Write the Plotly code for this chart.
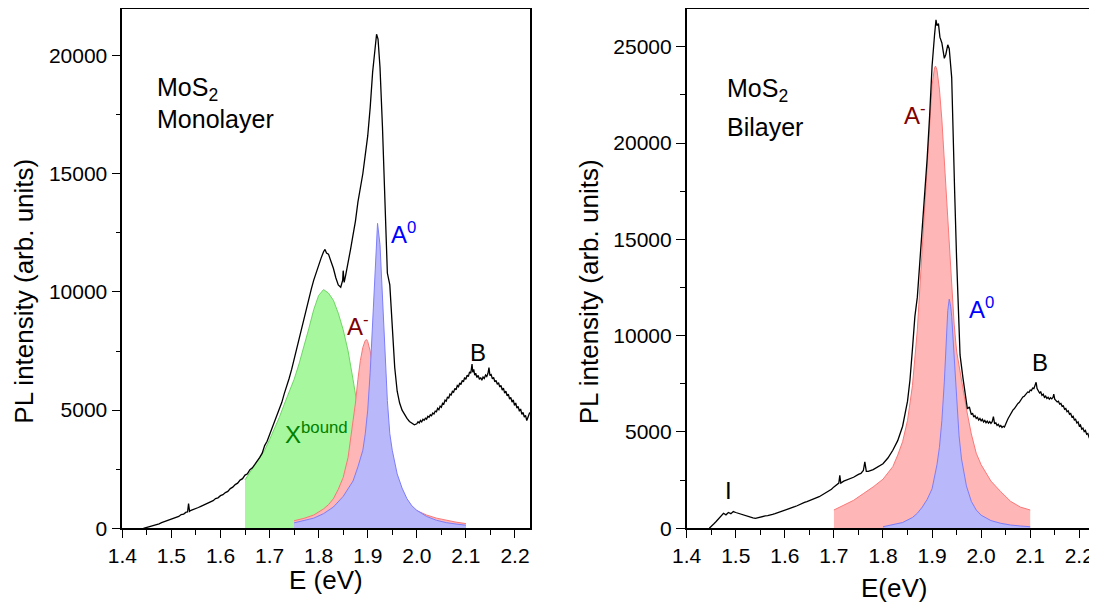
import plotly.graph_objects as go

# ---------------- data ----------------
# Monolayer PL spectrum: rising part and excitonic peaks
E_mono_a = [1.443,1.450,1.455,1.460,1.465,1.470,1.475,1.480,1.485,1.490,1.495,1.500,1.505,1.510,1.515,1.520,1.525,1.530,1.533,1.535,1.537,
            1.540,1.545,1.550,1.555,1.560,1.565,1.570,1.575,1.580,1.585,1.590,1.595,1.600,1.605,1.610,1.615,1.620,1.625,1.630,1.635,
            1.640,1.645,1.650,1.655,1.660,1.665,1.670,1.675,1.680,1.685,1.690,1.695,1.700,1.705,1.710,1.715,1.720,1.725,1.730,1.735,
            1.740,1.745,1.750,1.755,1.760,1.765,1.770,1.775,1.780,1.785,1.790,1.795,1.800,1.805,1.810,1.813,1.816,1.820,1.825,1.830,
            1.835,1.840,1.845,1.849,1.850,1.852,1.855,1.860,1.865,1.870,1.875,1.880,1.885,1.890,1.895,1.900,1.905,1.910,1.915,1.918,
            1.921,1.925,1.930,1.935,1.940,1.945,1.950,1.955,1.960,1.965,1.970,1.975,1.980,1.985,1.990,1.995]
I_mono_a = [0,40,60,110,120,170,190,240,280,320,340,400,410,470,500,580,600,680,690,1050,720,
            760,790,850,880,930,980,1040,1060,1140,1170,1260,1290,1380,1420,1510,1560,1680,1740,1850,1910,
            2040,2100,2250,2310,2480,2560,2700,2830,3000,3180,3500,3680,3950,4180,4450,4720,5050,5330,5700,5980,
            6350,6720,7150,7580,8050,8470,8950,9330,9750,10120,10500,10830,11150,11430,11700,11800,11650,11600,11300,11000,
            10600,10300,10200,10500,10900,10400,10700,11200,11800,12400,13000,13800,14400,15000,15800,16600,17800,19300,20300,20900,
            20700,19500,17000,14200,10800,10300,8500,6800,5800,5300,5000,4800,4650,4520,4450,4380]
# Monolayer PL spectrum: B exciton region
E_mono_b = [2.000,2.0025,2.005,2.0075,2.010,2.0125,2.015,2.0175,2.020,2.0225,2.025,2.0275,2.030,2.0325,2.035,2.0375,2.040,2.0425,2.045,2.0475,
            2.050,2.0525,2.055,2.0575,2.060,2.0625,2.065,2.0675,2.070,2.0725,2.075,2.0775,2.080,2.0825,2.085,2.0875,2.090,2.0925,2.095,2.0975,
            2.100,2.1025,2.105,2.1075,2.110,2.1125,2.114,2.116,2.118,2.120,2.1225,2.125,2.1275,2.130,2.1325,2.135,2.1375,2.140,2.1425,2.145,
            2.147,2.149,2.1515,2.154,2.1565,2.159,2.1615,2.164,2.1665,2.169,2.1715,2.174,2.1765,2.179,2.1815,2.184,2.1865,2.189,2.1915,2.194,
            2.1965,2.199,2.2015,2.204,2.2065,2.209,2.2115,2.214,2.2165,2.219,2.2215,2.224,2.2265,2.230]
I_mono_b = [4420,4510,4460,4560,4500,4610,4570,4660,4620,4740,4700,4800,4760,4880,4840,4960,4930,5080,5020,5170,
            5120,5290,5260,5420,5380,5560,5500,5680,5640,5800,5760,5920,5860,6040,5990,6150,6080,6260,6200,6380,
            6300,6480,6420,6620,6560,6950,6600,6720,6480,6560,6380,6470,6300,6380,6260,6400,6340,6480,6420,6560,
            6800,6460,6500,6320,6380,6200,6260,6090,6160,5980,6040,5850,5930,5720,5800,5600,5680,5470,5540,5340,
            5430,5200,5300,5080,5160,4950,5050,4820,4900,4700,4780,4560,4700,4900]
E_mono = E_mono_a + E_mono_b
I_mono = I_mono_a + I_mono_b

# Monolayer fitted components
E_xb = [1.65,1.66,1.67,1.68,1.69,1.70,1.71,1.72,1.73,1.74,1.75,1.76,1.77,1.78,1.79,1.80,1.81,1.82,1.83,1.84,1.85,1.86,1.87,1.88,1.89,1.90,1.92,1.95]
I_xb = [2050,2350,2700,3000,3300,3750,4200,4700,5250,5800,6300,6950,7650,8450,9250,9850,10100,9950,9650,9100,8400,7500,6300,5000,3800,2500,1000,0]

E_am1 = [1.75,1.77,1.79,1.80,1.81,1.82,1.83,1.84,1.85,1.86,1.865,1.87,1.875,1.88,1.885,1.89,1.895,1.898,1.90,1.905,1.91,1.92,1.93,1.94,1.95,1.96,1.97,1.98,1.99,2.00,2.02,2.04,2.06,2.08,2.10]
I_am1 = [320,420,560,680,820,1000,1250,1650,2150,3000,3700,4450,5300,6300,7100,7650,7950,7980,7900,7500,6800,5500,4100,3000,2200,1700,1300,1050,870,750,560,430,330,260,200]

E_a01 = [1.75,1.77,1.79,1.81,1.83,1.85,1.86,1.87,1.88,1.89,1.895,1.90,1.905,1.91,1.915,1.92,1.925,1.93,1.935,1.94,1.945,1.95,1.96,1.97,1.98,1.99,2.00,2.02,2.04,2.06,2.08,2.10]
I_a01 = [230,320,430,620,900,1350,1650,2000,2600,3300,4000,5000,6600,8800,11300,12900,12000,9800,7300,5400,4000,3300,2300,1700,1250,950,760,500,340,240,180,130]

# Bilayer PL spectrum: rising part and A peak
E_bi_a = [1.446,1.450,1.455,1.460,1.465,1.470,1.475,1.480,1.485,1.490,1.495,1.500,1.505,1.510,1.515,1.520,1.525,1.530,1.535,1.540,1.545,
          1.550,1.555,1.560,1.565,1.570,1.575,1.580,1.585,1.590,1.595,1.600,1.605,1.610,1.615,1.620,1.625,1.630,1.635,1.640,1.645,
          1.650,1.655,1.660,1.665,1.670,1.675,1.680,1.685,1.690,1.695,1.700,1.705,1.710,1.712,1.714,1.720,1.730,1.740,1.750,1.755,
          1.760,1.763,1.766,1.770,1.780,1.790,1.800,1.810,1.820,1.830,1.840,1.850,1.855,1.860,1.865,1.870,1.875,1.880,1.885,1.890,
          1.895,1.900,1.905,1.908,1.910,1.913,1.916,1.920,1.925,1.928,1.932,1.935,1.940,1.943,1.946,1.950,1.953,1.957,1.963,1.968,1.972]
I_bi_a = [0,80,220,350,480,600,780,700,820,760,870,820,780,700,660,620,590,560,540,520,560,
          600,620,640,660,680,720,760,800,840,880,930,960,1020,1060,1120,1170,1240,1280,1350,1390,
          1450,1480,1530,1590,1640,1720,1800,1860,1950,2030,2150,2250,2350,2750,2350,2450,2550,2650,2800,2850,
          3000,3450,2950,2950,3050,3200,3350,3650,4050,4550,5300,6600,7700,9300,11000,12000,13800,15600,17000,19200,
          21400,24000,25600,26400,26100,26200,25500,25200,24400,24600,25100,24900,23400,21000,17500,14000,11300,9000,7800,6800,6200]
# Bilayer PL spectrum: B exciton region
E_bi_b = [1.976,1.978,1.980,1.9825,1.985,1.9875,1.990,1.9925,1.995,1.9975,2.000,2.0025,2.005,2.0075,2.010,2.0125,2.015,2.0175,2.020,2.0225,
          2.025,2.0275,2.030,2.0325,2.035,2.0375,2.040,2.0425,2.045,2.0475,2.050,2.0525,2.055,2.0575,2.060,2.0625,2.065,2.0675,2.070,2.0725,
          2.075,2.0775,2.080,2.0825,2.085,2.0875,2.090,2.0925,2.095,2.0975,2.100,2.1025,2.105,2.1075,2.110,2.112,2.114,2.1165,2.119,2.1215,
          2.124,2.1265,2.129,2.1315,2.134,2.1365,2.139,2.1415,2.144,2.1465,2.148,2.150,2.1525,2.155,2.1575,2.160,2.1625,2.165,2.1675,2.170,
          2.1725,2.175,2.1775,2.180,2.1825,2.185,2.1875,2.190,2.1925,2.195,2.1975,2.200,2.2025,2.205,2.2075,2.210,2.2125,2.215,2.2175,2.220,
          2.2225,2.225,2.2275,2.230]
I_bi_b = [6300,6000,5900,5980,5780,5850,5700,5760,5620,5700,5580,5660,5520,5600,5480,5560,5460,5540,5450,5530,
          5800,5420,5480,5340,5400,5280,5340,5240,5300,5260,5450,5560,5700,5820,5950,6030,6150,6200,6320,6380,
          6480,6530,6650,6700,6820,6850,6950,6980,7080,7050,7180,7150,7280,7250,7480,7580,7250,7150,7020,7080,
          6900,6960,6800,6860,6740,6800,6700,6780,6720,6800,6960,6700,6640,6560,6600,6450,6480,6330,6360,6180,
          6220,6050,6100,5920,5960,5780,5820,5620,5660,5470,5520,5310,5370,5150,5200,5020,5080,4880,4920,4720,
          4770,4600,4750,4880]
E_bi = E_bi_a + E_bi_b
I_bi = I_bi_a + I_bi_b

# Bilayer fitted components
E_am2 = [1.70,1.72,1.74,1.76,1.78,1.80,1.81,1.82,1.83,1.84,1.85,1.86,1.87,1.88,1.89,1.895,1.90,1.905,1.907,1.91,1.915,1.92,1.925,1.93,1.935,1.94,1.945,1.95,1.96,1.97,1.98,1.99,2.00,2.02,2.04,2.06,2.08,2.10]
I_am2 = [950,1200,1450,1800,2150,2550,2850,3200,3800,4500,5600,7400,10300,14500,19000,21300,23000,23900,24000,23800,22800,21200,19000,16800,14500,12400,10600,9200,7600,6200,4900,3900,3300,2450,1900,1400,1100,950]

E_a02 = [1.80,1.82,1.84,1.86,1.87,1.88,1.89,1.90,1.905,1.91,1.915,1.92,1.925,1.93,1.932,1.935,1.938,1.94,1.945,1.95,1.955,1.96,1.97,1.98,1.99,2.00,2.02,2.04,2.06,2.08,2.10]
I_a02 = [80,180,300,560,780,1100,1500,2050,2600,3300,4200,5600,7600,10000,11300,11900,11500,11000,8800,6500,4800,3600,2200,1400,950,680,400,260,170,120,80]

# axis ticks
x_ticks = [1.4,1.5,1.6,1.7,1.8,1.9,2.0,2.1,2.2]
x_ticklabels = ["1.4","1.5","1.6","1.7","1.8","1.9","2.0","2.1","2.2"]
y1_ticks = [0,5000,10000,15000,20000]
y2_ticks = [0,5000,10000,15000,20000,25000]

# ---------------- styling ----------------
FONT = "Liberation Sans, Arial, sans-serif"
GREEN_FILL = "rgb(166,247,158)"
GREEN_LINE = "rgb(110,215,100)"
RED_FILL = "rgb(255,182,182)"
RED_LINE = "rgb(250,120,120)"
BLUE_FILL = "rgb(184,184,250)"
BLUE_LINE = "rgb(125,125,250)"
TICKSIZE = 21

fig = go.Figure()

def fill_trace(x, y, fillc, linec, xa, ya):
    return go.Scatter(x=x, y=y, mode="lines", fill="tozeroy", fillcolor=fillc,
                      line=dict(color=linec, width=1), xaxis=xa, yaxis=ya,
                      hoverinfo="skip", showlegend=False)

fig.add_trace(fill_trace(E_xb, I_xb, GREEN_FILL, GREEN_LINE, "x", "y"))
fig.add_trace(fill_trace(E_am1, I_am1, RED_FILL, RED_LINE, "x", "y"))
fig.add_trace(fill_trace(E_a01, I_a01, BLUE_FILL, BLUE_LINE, "x", "y"))
fig.add_trace(go.Scatter(x=E_mono, y=I_mono, mode="lines", line=dict(color="black", width=1.3),
                         xaxis="x", yaxis="y", showlegend=False))

fig.add_trace(fill_trace(E_am2, I_am2, RED_FILL, RED_LINE, "x2", "y2"))
fig.add_trace(fill_trace(E_a02, I_a02, BLUE_FILL, BLUE_LINE, "x2", "y2"))
fig.add_trace(go.Scatter(x=E_bi, y=I_bi, mode="lines", line=dict(color="black", width=1.3),
                         xaxis="x2", yaxis="y2", showlegend=False))

XR = [1.4, 2.2306]
YDOM = [0.1314, 0.9983]

def xax(domain, anchor):
    return dict(domain=domain, anchor=anchor, range=XR, showline=True, linecolor="black", linewidth=1.6,
                mirror=True, ticks="outside", ticklen=8, tickwidth=1.4, tickcolor="black",
                tickvals=x_ticks, ticktext=x_ticklabels, automargin=False,
                minor=dict(ticks="outside", ticklen=5, tickwidth=1.4, tickcolor="black", dtick=0.05, tick0=1.4, showgrid=False),
                showgrid=False, zeroline=False, tickfont=dict(size=TICKSIZE, color="black", family=FONT))

def xtop(overl, anchor):
    return dict(overlaying=overl, anchor=anchor, side="top", range=XR, showline=False,
                ticks="inside", ticklen=8, tickwidth=1.4, tickcolor="black", automargin=False,
                tickvals=x_ticks, showticklabels=False,
                minor=dict(ticks="inside", ticklen=5, tickwidth=1.4, tickcolor="black", dtick=0.05, tick0=1.4, showgrid=False),
                showgrid=False, zeroline=False)

def yax(anchor, top, tv):
    return dict(domain=YDOM, anchor=anchor, range=[0, top], showline=True, linecolor="black", linewidth=1.6,
                mirror=True, ticks="outside", ticklen=9, tickwidth=1.4, tickcolor="black", automargin=False,
                tickvals=tv, ticktext=[str(v) for v in tv],
                minor=dict(ticks="outside", ticklen=5, tickwidth=1.4, tickcolor="black", dtick=2500, tick0=0, showgrid=False),
                showgrid=False, zeroline=False, tickfont=dict(size=TICKSIZE, color="black", family=FONT))

# the page body adds an 8px margin, so the figure is 8px smaller than the window
fig.update_layout(
    width=1089, height=599, autosize=False,
    margin=dict(l=0, r=0, t=0, b=0, autoexpand=False),
    paper_bgcolor="white", plot_bgcolor="white",
    font=dict(family=FONT, color="black"),
    showlegend=False,
    xaxis=xax([0.10496, 0.47934], "y"),
    yaxis=yax("x", 21970, y1_ticks),
    xaxis2=xax([0.62323, 0.99752], "y2"),
    yaxis2=yax("x2", 26960, y2_ticks),
    xaxis3=xtop("x", "y"),
    xaxis4=xtop("x2", "y2"),
)

def ann(text, x, y, xref, yref, size, color="black", xanchor="left", yanchor="middle", angle=0):
    return dict(text=text, x=x, y=y, xref=xref, yref=yref, showarrow=False, xanchor=xanchor,
                yanchor=yanchor, textangle=angle, font=dict(size=size, color=color, family=FONT))

annotations = [
    # left panel
    ann("MoS<sub>2</sub>", 1.467, 18600, "x", "y", 25),
    ann("Monolayer", 1.467, 17300, "x", "y", 25),
    ann("A<sup>0</sup>", 1.943, 12500, "x", "y", 24, "rgb(0,0,255)"),
    ann("A<sup>-</sup>", 1.853, 8600, "x", "y", 24, "rgb(128,0,0)"),
    ann("B", 2.1255, 7450, "x", "y", 24, "black", "center"),
    ann("X<sup>bound</sup>", 1.727, 4050, "x", "y", 24, "rgb(0,128,0)"),
    # right panel
    ann("MoS<sub>2</sub>", 1.478, 22750, "x2", "y2", 25),
    ann("Bilayer", 1.478, 20850, "x2", "y2", 25),
    ann("A<sup>-</sup>", 1.8385, 21500, "x2", "y2", 24, "rgb(128,0,0)"),
    ann("A<sup>0</sup>", 1.971, 11450, "x2", "y2", 24, "rgb(0,0,255)"),
    ann("B", 2.1206, 8600, "x2", "y2", 24, "black", "center"),
    ann("I", 1.4851, 1980, "x2", "y2", 24, "black", "center"),
    # axis titles
    ann("PL intensity (arb. units)", 0.0147, 0.5264, "paper", "paper", 26, "black", "center", "middle", -90),
    ann("PL intensity (arb. units)", 0.5332, 0.5264, "paper", "paper", 26, "black", "center", "middle", -90),
    ann("E (eV)", 0.2920, 0.0450, "paper", "paper", 26, "black", "center", "middle"),
    ann("E(eV)", 0.8136, 0.0317, "paper", "paper", 26, "black", "center", "middle"),
]
fig.update_layout(annotations=annotations)

fig.write_html("out.html")
